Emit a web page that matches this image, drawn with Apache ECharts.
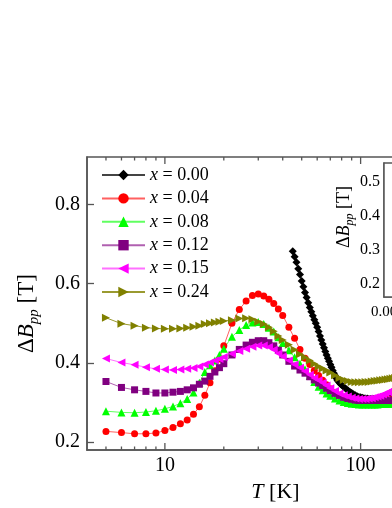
<!DOCTYPE html>
<html><head><meta charset="utf-8">
<script src="https://cdn.jsdelivr.net/npm/echarts@6/dist/echarts.min.js"></script>
<style>html,body{margin:0;padding:0;background:#fff}#c{width:392px;height:508px}</style>
</head><body><div id="c"></div><script>
const FONT = "'Liberation Serif','Times New Roman',serif";

// ---- data ----
const xLabels = ['0.00', '0.04', '0.08', '0.12', '0.15', '0.24'];

const tempBlack = [45,46,47,48,49,50,51,52,53,54,55,56,57,58,59,60,61,62,63,64,65,66,67,68,69,70,71,72,73,74,75,76,77,78,79,80,
  82,84,86,88,90,92,94,96,98,100,102,104,106,108,110,112,114,116,118,120,122,124,126,128,130,132,134,136,138,140,142,144,146,148,150];
const valBlack = [.682,.668,.654,.638,.623,.607,.592,.578,.565,.552,.54,.529,.519,.509,.5,.49,.479,.468,.458,.448,.438,.429,.42,.412,.404,.396,.389,.381,.374,.368,.362,.357,.353,.35,.347,.344,
  .339,.335,.331,.327,.324,.321,.318,.316,.314,.313,.312,.311,.31,.31,.309,.309,.309,.309,.309,.309,.309,.309,.309,.309,.309,.31,.31,.31,.31,.31,.31,.31,.31,.31,.31];

const tempCommon = [5,6,7,8,9,10,11,12,13,14,15,16,17,18,19,20,22,24,26,28,30,32,34,36,38,40,43,46,49,52,55,58,61,64,67,70,
  74,78,82,86,90,94,98,102,106,110,114,118,122,126,130,134,138,142,146,150];
const valRed = [.227,.224,.221,.221,.223,.229,.237,.246,.256,.27,.289,.318,.35,.38,.41,.443,
  .5,.535,.556,.57,.574,.569,.561,.55,.536,.52,
  .49,.462,.434,.412,.396,.381,.368,.356,.345,.335,
  .325,.318,.313,.31,.308,.307,.306,.306,.306,.306,.306,.306,.307,.307,.307,.308,.308,.308,.309,.309];
const valGreen = [.278,.275,.274,.276,.279,.284,.29,.298,.309,.325,.35,.377,.394,.406,.42,.436,
  .466,.483,.496,.502,.503,.498,.489,.479,.465,.45,
  .432,.414,.398,.384,.367,.352,.34,.331,.323,.317,
  .31,.305,.301,.299,.297,.296,.295,.295,.295,.295,.295,.295,.295,.296,.296,.296,.297,.297,.297,.298];
const valPurple = [.353,.338,.332,.328,.324,.324,.326,.328,.332,.337,.346,.354,.366,.377,.388,.398,
  .42,.434,.445,.452,.456,.456,.451,.443,.432,.42,
  .404,.392,.382,.374,.365,.357,.349,.343,.336,.33,
  .323,.318,.313,.31,.308,.306,.305,.305,.305,.305,.305,.305,.305,.305,.305,.305,.305,.305,.306,.306];
const valMagenta = [.411,.401,.395,.389,.385,.383,.382,.383,.385,.387,.391,.396,.401,.406,.41,.415,
  .423,.43,.436,.441,.444,.444,.44,.433,.424,.416,
  .406,.396,.388,.379,.37,.362,.356,.35,.343,.336,
  .329,.323,.318,.315,.312,.31,.309,.309,.309,.31,.311,.313,.315,.317,.32,.323,.326,.329,.332,.335];
const valOlive = [.514,.499,.494,.489,.487,.486,.486,.487,.489,.491,.494,.498,.5,.502,.504,.506,
  .508,.512,.513,.51,.504,.498,.49,.48,.468,.458,
  .446,.433,.422,.414,.406,.398,.391,.386,.381,.376,
  .369,.362,.357,.354,.352,.351,.351,.351,.352,.352,.353,.354,.355,.356,.357,.358,.359,.36,.361,.362];

const xMajorTicks = [10, 100];
const xMinorTicks = [5,6,7,8,9,20,30,40,50,60,70,80,90,200,300];
const yMajorTicks = [0.2, 0.4, 0.6, 0.8];
const yMinorTicks = [0.24,0.28,0.32,0.36,0.44,0.48,0.52,0.56,0.64,0.68,0.72,0.76,0.84,0.88];
const insetYTicks = [0.2, 0.3, 0.4, 0.5];

// ---- axis settings ----
const X_MIN = 4, X_MAX = 300, Y_MIN = 0.18, Y_MAX = 0.92;
const AX = '#555';

const seriesVals = [
  [tempBlack, valBlack], [tempCommon, valRed], [tempCommon, valGreen],
  [tempCommon, valPurple], [tempCommon, valMagenta], [tempCommon, valOlive]
];
const colors = ['#000000', '#ff0000', '#00ff00', '#800080', '#ff00ff', '#808000'];
const lineColors = ['#444444', '#ff6060', '#60ff60', '#b060b0', '#ff70ff', '#9a9a30'];
const symbols = ['diamond', 'circle', 'triangle', 'rect', 'triangle', 'triangle'];
const rotates = [0, 0, 0, 0, 90, -90];
const sizes = [8, 7, 8, 7, 8, 8];

const names = xLabels.map(v => 'x = ' + v);

const dataSeries = names.map((n, i) => ({
  name: n, type: 'line', xAxisIndex: 0, yAxisIndex: 0,
  data: seriesVals[i][0].map((t, k) => [t, seriesVals[i][1][k]]),
  symbol: symbols[i], symbolRotate: rotates[i], symbolSize: sizes[i],
  showAllSymbol: true, animation: false,
  itemStyle: { color: colors[i] },
  lineStyle: { color: lineColors[i], width: 1 }
}));

function tickSeries(vals, len) {
  return {
    type: 'custom', xAxisIndex: 0, yAxisIndex: 0, silent: true, clip: false, animation: false,
    data: vals.map(v => [v]),
    encode: { x: 0 },
    renderItem: (params, api) => {
      const t = api.value(0);
      const b = api.coord([t, Y_MIN]);
      const tp = api.coord([t, Y_MAX]);
      return { type: 'group', children: [
        { type: 'line', shape: { x1: b[0], y1: b[1], x2: b[0], y2: b[1] - len }, style: { stroke: AX, lineWidth: 1.3 } },
        { type: 'line', shape: { x1: tp[0], y1: tp[1], x2: tp[0], y2: tp[1] + len }, style: { stroke: AX, lineWidth: 1.3 } }
      ]};
    }
  };
}

const chart = echarts.init(document.getElementById('c'), null, { renderer: 'canvas' });
chart.setOption({
  backgroundColor: '#fff',
  animation: false,
  textStyle: { fontFamily: FONT },
  grid: [
    { left: 87, top: 157, width: 367, height: 293, outerBoundsMode: 'none', containLabel: false,
      show: true, borderColor: AX, borderWidth: 1.5, backgroundColor: 'transparent' },
    { left: 384, top: 163, width: 150, height: 134, outerBoundsMode: 'none', containLabel: false,
      show: true, borderColor: AX, borderWidth: 1.5, backgroundColor: '#fff', z: 5 }
  ],
  legend: {
    orient: 'vertical', left: 101, top: 166, padding: 0, itemWidth: 43, itemHeight: 13, itemGap: 5.4,
    data: names,
    formatter: n => '{it|x}' + n.slice(1),
    textStyle: { fontFamily: FONT, fontSize: 18, color: '#000', lineHeight: 18,
      rich: { it: { fontStyle: 'italic', fontFamily: FONT, fontSize: 18, color: '#000' } } }
  },
  xAxis: [
    {
      gridIndex: 0, type: 'log', logBase: 10, min: X_MIN, max: X_MAX,
      axisLine: { show: true, lineStyle: { color: AX, width: 1.5 } },
      axisTick: { show: false }, splitLine: { show: false }, minorTick: { show: false },
      axisLabel: { fontFamily: FONT, fontSize: 20, color: '#000', margin: 6, showMinLabel: false, showMaxLabel: false },
      name: '{it|T} [K]', nameLocation: 'middle', nameGap: 29,
      nameTextStyle: { fontFamily: FONT, fontSize: 22, color: '#000', padding: [0, 0, 0, 10],
        rich: { it: { fontStyle: 'italic', fontFamily: FONT, fontSize: 22, color: '#000' } } }
    },
    {
      gridIndex: 1, type: 'value', min: 0, max: 0.25, interval: 0.05,
      axisLine: { show: true, lineStyle: { color: AX, width: 1.5 } },
      axisTick: { inside: true, length: 5, lineStyle: { color: AX } }, splitLine: { show: false },
      axisLabel: { fontFamily: FONT, fontSize: 15, color: '#000', margin: 8, formatter: v => v.toFixed(2) }
    }
  ],
  yAxis: [
    {
      gridIndex: 0, type: 'value', min: Y_MIN, max: Y_MAX,
      axisLine: { show: true, lineStyle: { color: AX, width: 1.5 } },
      axisTick: { show: true, inside: true, length: 7, customValues: yMajorTicks, lineStyle: { color: AX, width: 1.3 } },
      splitLine: { show: false },
      axisLabel: { customValues: yMajorTicks, fontFamily: FONT, fontSize: 20, color: '#000', margin: 7, formatter: v => v.toFixed(1) },
      name: '{d|Δ}{it|B}{sub|pp} [T]', nameLocation: 'middle', nameGap: 45, nameRotate: 90,
      nameTextStyle: { fontFamily: FONT, fontSize: 23, color: '#000', padding: [0, 20, 0, 0],
        rich: {
          d: { fontFamily: FONT, fontSize: 23, color: '#000', lineHeight: 30 },
          it: { fontStyle: 'italic', fontFamily: FONT, fontSize: 23, color: '#000', lineHeight: 30 },
          sub: { fontStyle: 'italic', fontFamily: FONT, fontSize: 15, color: '#000', verticalAlign: 'bottom', lineHeight: 30 }
        } }
    },
    {
      gridIndex: 0, type: 'value', min: Y_MIN, max: Y_MAX,
      axisLine: { show: false },
      axisTick: { show: true, inside: true, length: 3.5, customValues: yMinorTicks, lineStyle: { color: AX, width: 1.3 } },
      axisLabel: { show: false }, splitLine: { show: false }
    },
    {
      gridIndex: 1, type: 'value', min: 0.16, max: 0.555,
      axisLine: { show: true, lineStyle: { color: AX, width: 1.5 } },
      axisTick: { show: true, inside: true, length: 5, customValues: insetYTicks, lineStyle: { color: AX } },
      splitLine: { show: false },
      axisLabel: { customValues: insetYTicks, fontFamily: FONT, fontSize: 16, color: '#000', margin: 4, formatter: v => v.toFixed(1) },
      name: '{d|Δ}{it|B}{sub|pp} [T]', nameLocation: 'middle', nameGap: 27, nameRotate: 90,
      nameTextStyle: { fontFamily: FONT, fontSize: 18, color: '#000', padding: [0, 0, 0, 26],
        rich: {
          d: { fontFamily: FONT, fontSize: 18, color: '#000', lineHeight: 23 },
          it: { fontStyle: 'italic', fontFamily: FONT, fontSize: 18, color: '#000', lineHeight: 23 },
          sub: { fontStyle: 'italic', fontFamily: FONT, fontSize: 12, color: '#000', verticalAlign: 'bottom', lineHeight: 23 }
        } }
    }
  ],
  series: [tickSeries(xMinorTicks, 3.5), tickSeries(xMajorTicks, 7)].concat(dataSeries)
});
</script></body></html>
